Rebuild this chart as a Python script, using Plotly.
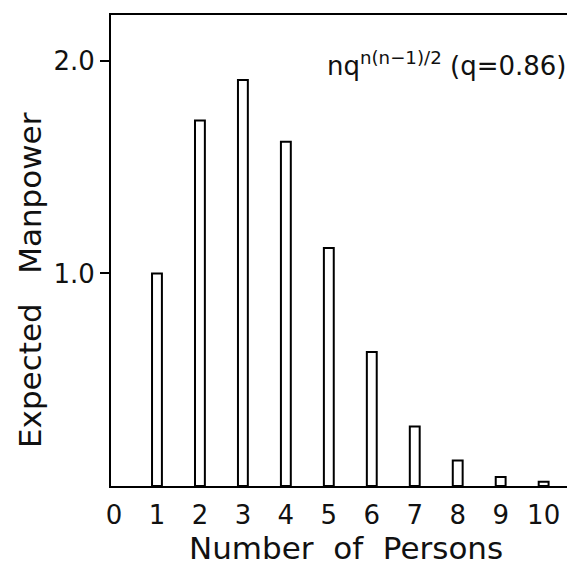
import plotly.graph_objects as go

persons = [1, 2, 3, 4, 5, 6, 7, 8, 9, 10]
manpower = [1.0, 1.72, 1.91, 1.62, 1.12, 0.63, 0.28, 0.12, 0.042, 0.02]
x_ticks = [0, 1, 2, 3, 4, 5, 6, 7, 8, 9, 10]
y_ticks = [1.0, 2.0]
y_tick_labels = ["1.0", "2.0"]

FONT = "DejaVu Sans"
INK = "#111"

# The page body has an 8px margin, so the figure is sized/offset to compensate.
OFF = 8
W, H = 575 - OFF, 565 - OFF
L, R, T, B = 111 - OFF, 0, 15 - OFF, 565 - 486
pw, ph = W - L - R, H - T - B


def px(xp):
    return (xp - OFF - L) / pw


def py(yp):
    return (H - B - (yp - OFF)) / ph


fig = go.Figure()
fig.add_trace(go.Bar(
    x=persons, y=manpower, width=0.23,
    marker=dict(color="white", line=dict(color="black", width=2)),
))

fig.update_layout(
    width=W, height=H,
    margin=dict(l=L, r=R, t=T, b=B),
    paper_bgcolor="white", plot_bgcolor="white",
    showlegend=False,
    font=dict(family=FONT, color=INK, size=26),
    xaxis=dict(
        range=[-0.07, 10.73], tickvals=x_ticks, ticktext=[str(v) for v in x_ticks],
        showgrid=False, zeroline=False, showline=True, linecolor="black", linewidth=2,
        mirror=True, ticks="", tickfont=dict(size=26, family=FONT, color=INK),
        ticklabelstandoff=5, automargin=False,
    ),
    yaxis=dict(
        range=[0, 2.216], tickvals=y_ticks, ticktext=y_tick_labels,
        showgrid=False, zeroline=False, showline=True, linecolor="black", linewidth=2,
        ticks="outside", ticklen=9, tickwidth=2, tickcolor="black",
        tickfont=dict(size=26, family=FONT, color=INK), automargin=False,
    ),
    annotations=[
        dict(x=px(568), y=py(64), xref="paper", yref="paper", xanchor="right", yanchor="middle",
             text="nq<sup>n(n−1)/2</sup> (q=0.86)", showarrow=False,
             font=dict(size=26, family=FONT, color=INK)),
        dict(x=px(346), y=py(548), xref="paper", yref="paper", xanchor="center", yanchor="middle",
             showarrow=False, text="Number  of  Persons",
             font=dict(size=31, family=FONT, color=INK)),
        dict(x=px(30), y=py(280), xref="paper", yref="paper", xanchor="center", yanchor="middle",
             showarrow=False, textangle=-90, text="Expected   Manpower",
             font=dict(size=31, family=FONT, color=INK)),
    ],
)

fig.write_html("out.html")
